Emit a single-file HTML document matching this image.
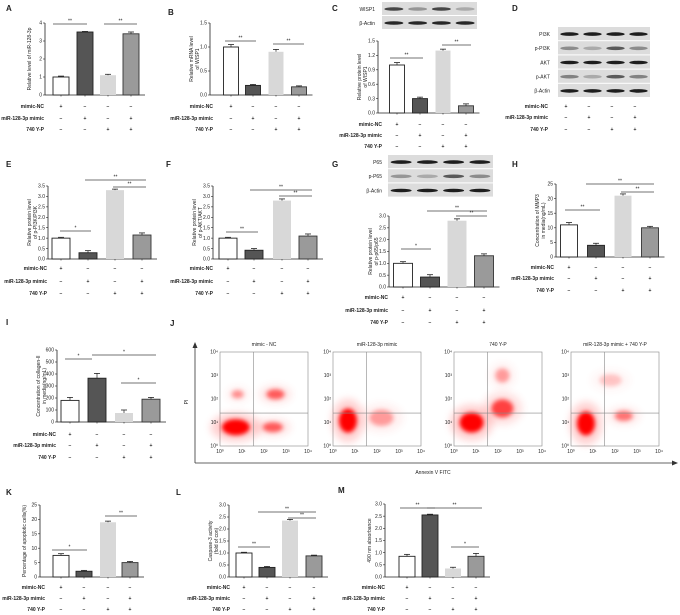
<!DOCTYPE html>
<html><head><meta charset="utf-8"><style>
body{margin:0;background:#fff}
svg{display:block;font-family:"Liberation Sans",Arial,sans-serif}
text{font-size:5px;fill:#222}
.pl{font-size:8px;font-weight:bold}
</style></head><body>
<svg id="fig" width="680" height="615" viewBox="0 0 680 615" xmlns="http://www.w3.org/2000/svg"></svg>
<script>
// Panel data
const groups = ["mimic-NC","miR-128-3p mimic","740 Y-P"];
const signsNC = ["+","−","−","−"];
const signsMiR = ["−","+","−","+"];
const signsYP = ["−","−","+","+"];
const valsA=[1.0,3.5,1.1,3.4], errA=[0.05,0.03,0.05,0.1];
const valsB=[1.0,0.2,0.9,0.17], errB=[0.05,0.02,0.05,0.02];
const valsC=[1.0,0.3,1.3,0.15], errC=[0.05,0.03,0.03,0.04];
const valsE=[1.0,0.3,3.3,1.15], errE=[0.04,0.1,0.05,0.1];
const valsF=[1.0,0.42,2.8,1.1], errF=[0.04,0.08,0.08,0.1];
const valsG=[1.0,0.42,2.8,1.32], errG=[0.07,0.1,0.08,0.08];
const valsH=[11,4,21,10], errH=[0.8,0.7,0.6,0.5];
const valsI=[180,365,75,190], errI=[25,40,25,15];
const valsK=[7.5,2,19,5], errK=[0.6,0.3,0.4,0.4];
const valsL=[1.0,0.4,2.35,0.88], errL=[0.03,0.04,0.05,0.03];
const valsM=[0.85,2.55,0.35,0.85], errM=[0.08,0.03,0.05,0.12];
const ticksA=["0","1","2","3","4"], ticksB=["0.0","0.5","1.0","1.5"], ticksC=["0.0","0.3","0.6","0.9","1.2","1.5"];
const ticks35=["0.0","0.5","1.0","1.5","2.0","2.5","3.0","3.5"], ticks30=["0.0","0.5","1.0","1.5","2.0","2.5","3.0"];
const ticksH=["0","5","10","15","20","25"], ticksI=["0","100","200","300","400","500","600"];

const NS="http://www.w3.org/2000/svg", svg=document.getElementById('fig');
function mk(tag,at,parent){const e=document.createElementNS(NS,tag);for(const k in at)e.setAttribute(k,at[k]);(parent||svg).appendChild(e);return e;}
function txt(x,y,s,at,parent){const e=mk('text',Object.assign({x:x,y:y},at||{}),parent);e.textContent=s;return e;}
const fills=["#fff","#555","#d8d8d8","#9a9a9a"], strokes=["#222","#222","none","#333"];

function panel(p){
  const g=mk('g',{});
  
  
  const l=txt(p.lx,p.ly,p.id,{class:'pl'},g);
  
  
  const max=parseFloat(p.ticks[p.ticks.length-1]);
  const y=v=>p.base-(v/max)*(p.base-p.top);
  const right=p.cx[3]+p.w/2+6;
  mk('line',{x1:p.ax,y1:p.top,x2:p.ax,y2:p.base,stroke:'#222','stroke-width':0.8},g);
  mk('line',{x1:p.ax,y1:p.base,x2:right,y2:p.base,stroke:'#222','stroke-width':0.8},g);
  p.ticks.forEach(t=>{const v=parseFloat(t);mk('line',{x1:p.ax-2,y1:y(v),x2:p.ax,y2:y(v),stroke:'#222','stroke-width':0.6},g);
    txt(p.ax-3,y(v)+1.7,t,{'text-anchor':'end','font-size':4.5},g);});
  txt(0,0,p.title[0],{'text-anchor':'middle','font-size':4.8,transform:`translate(${p.ax-14-(p.title.length-1)*3},${(p.top+p.base)/2}) rotate(-90)`},g);
  if(p.title[1]) txt(0,0,p.title[1],{'text-anchor':'middle','font-size':4.8,transform:`translate(${p.ax-11},${(p.top+p.base)/2}) rotate(-90)`},g);
  p.vals.forEach((v,i)=>{
    const b=mk('rect',{x:p.cx[i]-p.w/2,y:y(v),width:p.w,height:p.base-y(v),fill:fills[i],stroke:strokes[i],'stroke-width':0.9},g);
    
    
    const ey=y(v+p.err[i]);
    mk('line',{x1:p.cx[i],y1:y(v),x2:p.cx[i],y2:ey,stroke:'#222','stroke-width':0.7},g);
    mk('line',{x1:p.cx[i]-3,y1:ey,x2:p.cx[i]+3,y2:ey,stroke:'#222','stroke-width':0.8},g);
    mk('line',{x1:p.cx[i],y1:p.base,x2:p.cx[i],y2:p.base+1.5,stroke:'#222','stroke-width':0.6},g);
  });
  p.sig.forEach(s=>{mk('line',{x1:s[0],y1:s[2],x2:s[1],y2:s[2],stroke:'#444','stroke-width':0.8},g);
    txt((s[0]+s[1])/2,s[2]-1.5,s[3],{'text-anchor':'middle','font-size':5.5},g);});
  table(g,p.lab,p.cx,p.rows);
}
function table(g,lab,cx,rows){
  [signsNC,signsMiR,signsYP].forEach((sg,r)=>{
    txt(lab,rows[r]+1.8,groups[r],{'text-anchor':'end','font-size':4.6,'font-weight':'bold'},g);
    sg.forEach((s,i)=>txt(cx[i],rows[r]+2,s,{'text-anchor':'middle','font-size':6,'font-weight':'bold'},g));
  });
}
function blot(id,x,y,w,rows,names,lab,intens){
  const g=mk('g',{});
  
  
  const rh=rows;
  names.forEach((n,r)=>{
    mk('rect',{x:x,y:y+r*rh,width:w,height:rh-1,fill:'#dcdcdc'},g);
    txt(lab,y+r*rh+rh/2+1.8,n,{'text-anchor':'end','font-size':4.8},g);
    for(let i=0;i<4;i++){const c=intens[r][i];
      mk('ellipse',{cx:x+w*(i+0.5)/4,cy:y+r*rh+rh/2,rx:w/10,ry:1.8,fill:`rgb(${c},${c},${c})`},g);}
  });
}
panel({id:'A',lx:6,ly:11,ax:45,top:23,base:95,ticks:ticksA,cx:[61,85,108,131],w:16,vals:valsA,err:errA,title:['Relative  level of miR-128-3p'],sig:[[53,87,24,'**'],[104,137,24,'**']],lab:44,rows:[106,118,129]});
panel({id:'B',lx:168,ly:15,ax:210,top:23,base:95,ticks:ticksB,cx:[231,253,276,299],w:15,vals:valsB,err:errB,title:['Relative mRNA level','of WISP1'],sig:[[225,256,41,'**'],[273,304,44,'**']],lab:213,rows:[106,118,129]});
blot('c',382,2,95,14,['WISP1','β-Actin'],375,[[70,150,70,170],[40,40,40,40]]);
panel({id:'C',lx:332,ly:11,ax:378,top:41,base:113,ticks:ticksC,cx:[397,420,443,466],w:15,vals:valsC,err:errC,title:['Relative protein level','of WISP1'],sig:[[390,423,58,'**'],[442,471,45,'**']],lab:382,rows:[124,135,146]});
txt(512,11,'D',{class:'pl'});
blot('d',558,27,92,14.2,['PI3K','p-PI3K','AKT','p-AKT','β-Actin'],550,[[30,30,30,30],[140,170,90,140],[30,30,30,30],[130,170,90,130],[30,30,30,30]]);
(function(){const g=mk('g',{});table(g,548,[566,589,612,635],[106,117,129]);})();
panel({id:'E',lx:6,ly:167,ax:48,top:186,base:259,ticks:ticks35,cx:[61,88,115,142],w:18,vals:valsE,err:errE,title:['Relative protein level','of p-PI3K/PI3K'],sig:[[60,91,231,'*'],[85,146,180,'**'],[113,146,187,'**']],lab:47,rows:[268,281,293]});
panel({id:'F',lx:166,ly:167,ax:213,top:186,base:259,ticks:ticks35,cx:[228,254,282,308],w:18,vals:valsF,err:errF,title:['Relative protein level','of p-AKT/AKT'],sig:[[226,258,232,'**'],[250,312,190,'**'],[279,312,196,'**']],lab:213,rows:[268,281,293]});
blot('g',388,155,105,14.2,['P65','p-P65','β-Actin'],382,[[30,30,30,30],[150,170,90,140],[30,30,30,30]]);
panel({id:'G',lx:332,ly:167,ax:389,top:216,base:287,ticks:ticks30,cx:[403,430,457,484],w:19,vals:valsG,err:errG,title:['Relative protein level','of p-p65/p65'],sig:[[401,431,249,'*'],[427,487,211,'**'],[456,487,216,'**']],lab:388,rows:[297,310,322]});
panel({id:'H',lx:512,ly:167,ax:556,top:184,base:257,ticks:ticksH,cx:[569,596,623,650],w:17,vals:valsH,err:errH,title:['Concentration of MMP3','in media(ng/mL)'],sig:[[565,600,210,'**'],[586,654,184,'**'],[621,654,192,'**']],lab:554,rows:[267,278,290]});
panel({id:'I',lx:6,ly:325,ax:57,top:350,base:422,ticks:ticksI,cx:[70,97,124,151],w:18,vals:valsI,err:errI,title:['Concentration of collagen-II','in media(ng/mL)'],sig:[[65,92,359,'*'],[92,156,355,'*'],[121,156,383,'*']],lab:56,rows:[434,445,457]});
panel({id:'K',lx:6,ly:495,ax:40,top:505,base:577,ticks:ticksH,cx:[61,84,108,130],w:16,vals:valsK,err:errK,title:['Percentage of apoptotic cells(%)'],sig:[[52,87,550,'*'],[105,137,516,'**']],lab:45,rows:[587,598,609]});
panel({id:'L',lx:176,ly:495,ax:229,top:505,base:577,ticks:ticks30,cx:[244,267,290,314],w:16,vals:valsL,err:errL,title:['Caspase-3 activity','(fold of con)'],sig:[[238,270,547,'**'],[258,316,512,'**'],[288,316,518,'**']],lab:230,rows:[587,598,609]});
panel({id:'M',lx:338,ly:493,ax:385,top:504,base:577,ticks:ticks30,cx:[407,430,453,476],w:16,vals:valsM,err:errM,title:['490 nm absorbance'],sig:[[400,435,508,'**'],[427,482,508,'**'],[451,479,547,'*']],lab:385,rows:[587,598,609]});

// Panel J flow cytometry
const flowTitles=["mimic - NC","miR-128-3p mimic","740 Y-P","miR-128-3p mimic + 740 Y-P"];
const flowX=[220,333,454,571];
const decLabels=["10⁰","10¹","10²","10³","10⁴"];
const jg=mk('g',{});
txt(170,326,'J',{class:'pl'},jg);
mk('defs',{},jg).innerHTML='<filter id="bl" x="-50%" y="-50%" width="200%" height="200%"><feGaussianBlur stdDeviation="2"/></filter><filter id="bl2" x="-50%" y="-50%" width="200%" height="200%"><feGaussianBlur stdDeviation="4"/></filter>';
mk('line',{x1:195,y1:463,x2:195,y2:344,stroke:'#333','stroke-width':0.8},jg);
mk('path',{d:'M192.5,348 L195,342 L197.5,348Z',fill:'#333'},jg);
mk('line',{x1:195,y1:463,x2:674,y2:463,stroke:'#333','stroke-width':0.8},jg);
mk('path',{d:'M672,460.5 L678,463 L672,465.5Z',fill:'#333'},jg);
txt(188,402,'PI',{'font-size':5,transform:'rotate(-90 188 402)','text-anchor':'middle'},jg);
txt(433,474,'Annexin V FITC',{'font-size':5,'text-anchor':'middle'},jg);
const clouds=[[[0.18,0.8,14,8,1],[0.6,0.8,10,5,0.6],[0.2,0.45,6,4,0.4],[0.63,0.45,9,5,0.6]],
 [[0.17,0.73,9,12,1],[0.55,0.7,12,8,0.35]],
 [[0.2,0.75,12,10,1],[0.55,0.6,11,9,0.7],[0.55,0.25,7,7,0.35]],
 [[0.17,0.76,9,12,1],[0.6,0.68,9,5,0.5],[0.45,0.3,11,6,0.2]]];
flowX.forEach((x0,k)=>{
  const g=mk('g',{},jg);
  
  
  const w=88,h=94,y0=352;
  txt(x0+w/2,346,flowTitles[k],{'font-size':5,'text-anchor':'middle'},g);
  mk('rect',{x:x0,y:y0,width:w,height:h,fill:'#fff',stroke:'#888','stroke-width':0.6},g);
  clouds[k].forEach(c=>{
    mk('ellipse',{cx:x0+c[0]*w,cy:y0+c[1]*h,rx:c[2]*1.8,ry:c[3]*1.8,fill:'#f44',opacity:c[4]*0.25,filter:'url(#bl2)'},g);
    mk('ellipse',{cx:x0+c[0]*w,cy:y0+c[1]*h,rx:c[2],ry:c[3],fill:'#f00',opacity:c[4],filter:'url(#bl)'},g);});
  mk('line',{x1:x0+w*0.38,y1:y0,x2:x0+w*0.38,y2:y0+h,stroke:'#888','stroke-width':0.6},g);
  mk('line',{x1:x0,y1:y0+h*0.65,x2:x0+w,y2:y0+h*0.65,stroke:'#888','stroke-width':0.6},g);
  decLabels.forEach((d,i)=>{txt(x0+i*w/4,y0+h+7,d,{'font-size':3.8,'text-anchor':'middle'},g);
    txt(x0-2,y0+h-i*h/4+1.5,d,{'font-size':3.8,'text-anchor':'end'},g);});
});
</script>
</body></html>
